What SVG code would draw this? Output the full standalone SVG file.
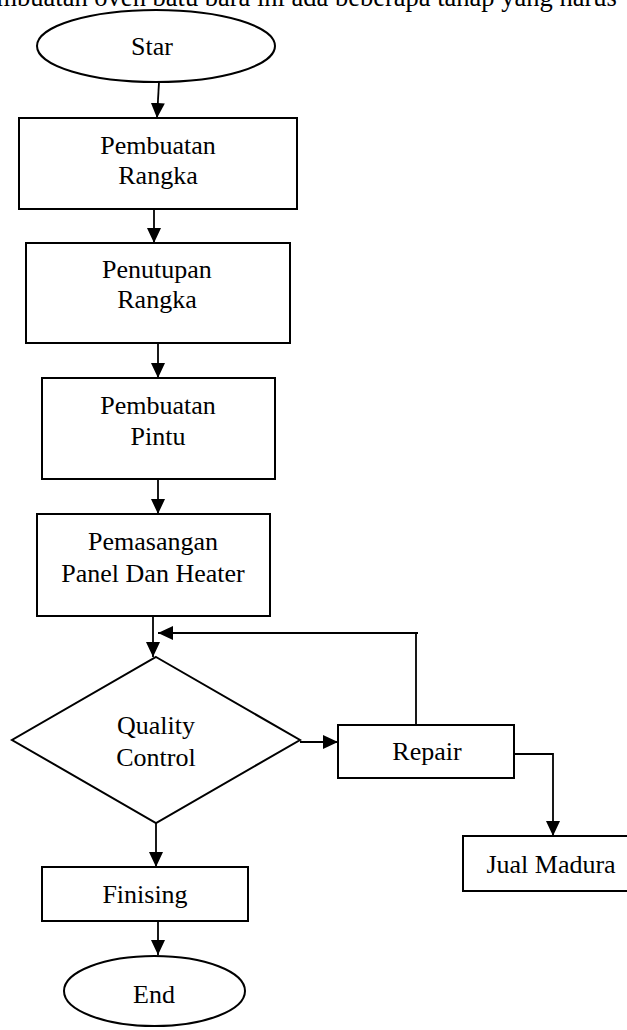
<svg xmlns="http://www.w3.org/2000/svg" width="627" height="1030" viewBox="0 0 627 1030">
<style>
.shape{fill:#fff;stroke:#000;stroke-width:2}
.conn{fill:none;stroke:#000;stroke-width:1.8}
.lbl{font-family:"Liberation Serif","Times New Roman",serif;font-size:26px;fill:#000;text-anchor:middle}
.top{font-family:"Liberation Serif","Times New Roman",serif;font-size:26.5px;fill:#000}
</style>
<defs>
<marker id="arr" markerUnits="userSpaceOnUse" markerWidth="15" markerHeight="14" refX="15" refY="7" orient="auto" viewBox="0 0 15 14">
<path d="M0,0 L15,7 L0,14 z" fill="#000"/>
</marker>
</defs>
<rect width="627" height="1030" fill="#fff"/>
<text class="top" x="-30" y="6">Pembuatan oven batu bara ini ada beberapa tahap yang harus</text>
<g id="connectors">
<line class="conn" x1="159" y1="82" x2="157" y2="118" marker-end="url(#arr)"/>
<line class="conn" x1="154" y1="209" x2="154" y2="243" marker-end="url(#arr)"/>
<line class="conn" x1="158" y1="343" x2="158" y2="378" marker-end="url(#arr)"/>
<line class="conn" x1="158" y1="479" x2="158" y2="514" marker-end="url(#arr)"/>
<line class="conn" x1="153" y1="616" x2="153" y2="657" marker-end="url(#arr)"/>
<line class="conn" x1="300" y1="742" x2="338" y2="742" marker-end="url(#arr)"/>
<polyline class="conn" points="416,725 416,633 418,633 158,633" marker-end="url(#arr)"/>
<polyline class="conn" points="515,754 553,754 553,836" marker-end="url(#arr)"/>
<line class="conn" x1="156" y1="823" x2="156" y2="867" marker-end="url(#arr)"/>
<line class="conn" x1="158" y1="921" x2="158" y2="955" marker-end="url(#arr)"/>
</g>
<g id="start">
<ellipse class="shape" cx="156" cy="46" rx="119" ry="36"/>
<text class="lbl" x="152" y="55">Star</text>
</g>
<g id="pembuatan-rangka">
<rect class="shape" x="19" y="118" width="278" height="91"/>
<text class="lbl" x="158" y="154">Pembuatan</text>
<text class="lbl" x="158" y="184">Rangka</text>
</g>
<g id="penutupan-rangka">
<rect class="shape" x="26" y="243" width="264" height="100"/>
<text class="lbl" x="157" y="278">Penutupan</text>
<text class="lbl" x="157" y="308">Rangka</text>
</g>
<g id="pembuatan-pintu">
<rect class="shape" x="42" y="378" width="233" height="101"/>
<text class="lbl" x="158" y="414">Pembuatan</text>
<text class="lbl" x="158" y="445">Pintu</text>
</g>
<g id="pemasangan">
<rect class="shape" x="37" y="514" width="233" height="102"/>
<text class="lbl" x="153" y="550">Pemasangan</text>
<text class="lbl" x="153" y="582">Panel Dan Heater</text>
</g>
<g id="quality-control">
<polygon class="shape" points="156,657 300,740 156,823 12,740"/>
<text class="lbl" x="156" y="734">Quality</text>
<text class="lbl" x="156" y="766">Control</text>
</g>
<g id="repair">
<rect class="shape" x="338" y="725" width="176" height="53"/>
<text class="lbl" x="427" y="760">Repair</text>
</g>
<g id="jual-madura">
<rect class="shape" x="463" y="836" width="172" height="55"/>
<text class="lbl" x="551" y="873">Jual Madura</text>
</g>
<g id="finising">
<rect class="shape" x="42" y="867" width="206" height="54"/>
<text class="lbl" x="145" y="903">Finising</text>
</g>
<g id="end">
<ellipse class="shape" cx="154.5" cy="991" rx="90.5" ry="35"/>
<text class="lbl" x="154" y="1003">End</text>
</g>
</svg>
